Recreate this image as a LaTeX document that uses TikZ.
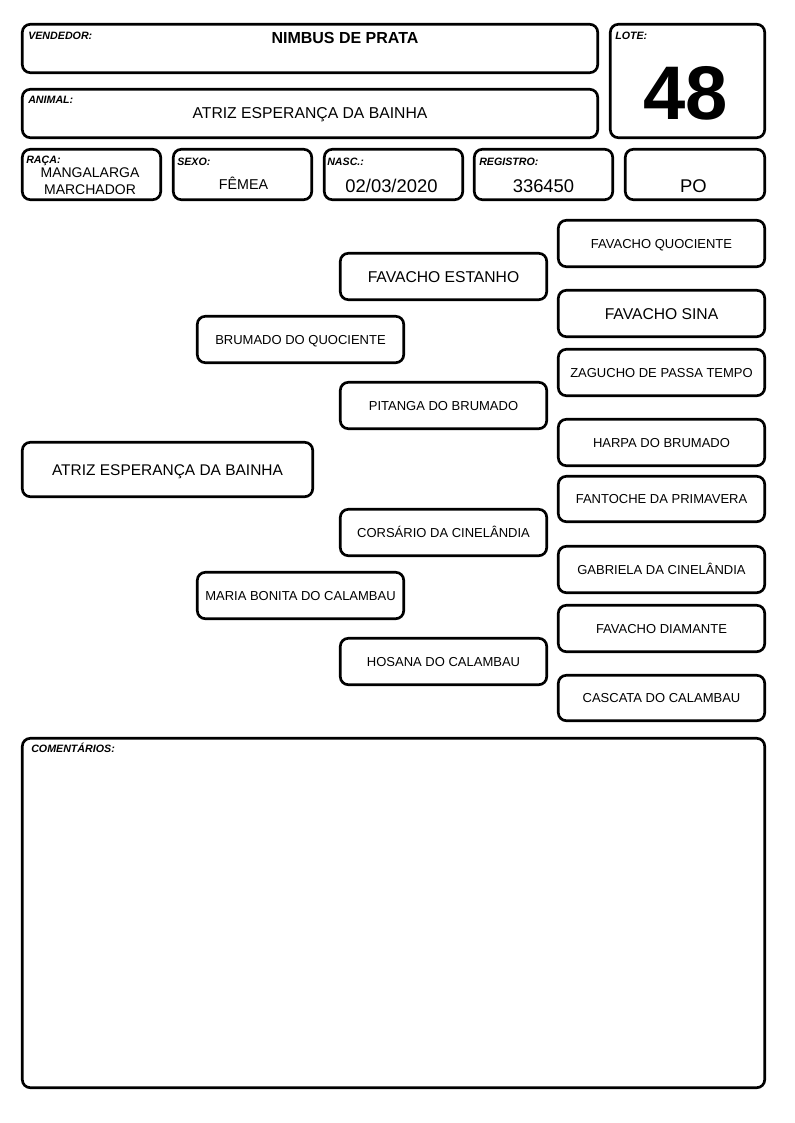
\documentclass[tikz,border=0pt]{standalone}
\usepackage{fontspec}
\setmainfont{Liberation Sans}
\tikzset{
  box/.style={draw, line width=2pt, rounded corners=6pt, inner sep=0pt, align=center, text depth=0pt},
  lbl/.style={font=\fontsize{8}{9}\selectfont\bfseries\itshape, anchor=west, inner sep=0pt, text height=5.73pt, text depth=0pt},
  val/.style={inner sep=0pt, align=center},
  small/.style={font=\fontsize{9.75}{11}\selectfont, text height=6.98pt},
  big/.style={font=\fontsize{11.75}{13}\selectfont, text height=8.41pt},
}
% name, x1, y1, x2, y2, style, text  (pixel coordinates, outer edges)
\newcommand\bx[7]{\node[box, #6, minimum width={(#4-#2-2.6)*0.75pt}, minimum height={(#5-#3-2.6)*0.75pt}] (#1) at ({(#2+#4)/2},{(#3+#5)/2}) {#7};}
\begin{document}
\begin{tikzpicture}[x=0.75pt,y=-0.75pt]
\useasboundingbox (0,0) rectangle (794,1123);
% header boxes
\bx{vend}{21}{23}{599}{74}{}{}
\bx{anim}{21}{88}{599}{139}{}{}
\bx{lote}{609}{23}{766}{139}{}{}
\bx{raca}{21}{148}{162}{201}{}{}
\bx{sexo}{172}{148}{313}{201}{}{}
\bx{nasc}{323}{148}{464}{201}{}{}
\bx{reg}{473}{148}{614}{201}{}{}
\bx{cat}{624}{148}{766}{201}{}{}
% labels
\node[lbl] (lvend) at (28,35.5) {VENDEDOR:};
\node[lbl] (lanim) at (28,99.5) {ANIMAL:};
\node[lbl] (llote) at (615,35.5) {LOTE:};
\node[lbl] (lraca) at (26,159.5) {RAÇA:};
\node[lbl] (lsexo) at (177,162) {SEXO:};
\node[lbl] (lnasc) at (327,162) {NASC.:};
\node[lbl] (lreg) at (479,162) {REGISTRO:};
% values
\node[val, font=\fontsize{12}{14}\selectfont\bfseries, text height=8.6pt, text depth=0pt] (vvend) at (345,37.5) {NIMBUS DE PRATA};
\node[val, font=\fontsize{11.8}{14}\selectfont, text height=8.45pt, text depth=0pt] (vanim) at (310,113) {ATRIZ ESPERANÇA DA BAINHA};
\node[val, font=\fontsize{57}{60}\selectfont\bfseries, text height=40.8pt, text depth=0pt] (vlote) at (686,92.7) {48};
\node[val, font=\fontsize{10.5}{12.3}\selectfont] (vraca) at (90,181) {MANGALARGA\\MARCHADOR};
\node[val, font=\fontsize{10.7}{12}\selectfont, text height=7.66pt, text depth=0pt] (vsexo) at (243.5,184.5) {FÊMEA};
\node[val, font=\fontsize{13.8}{15}\selectfont, text height=9.88pt, text depth=0pt] (vnasc) at (391.5,185.5) {02/03/2020};
\node[val, font=\fontsize{13.8}{15}\selectfont, text height=9.88pt, text depth=0pt] (vreg) at (543.5,185.5) {336450};
\node[val, font=\fontsize{13.8}{15}\selectfont, text height=9.88pt, text depth=0pt] (vcat) at (693.5,186) {PO};
% pedigree
\bx{p1}{21}{441}{314}{498}{font=\fontsize{11.6}{13}\selectfont, text height=8.3pt}{ATRIZ ESPERANÇA DA BAINHA}
\bx{p2a}{196}{315}{405}{364}{small}{BRUMADO DO QUOCIENTE}
\bx{p2b}{196}{571}{405}{620}{small}{MARIA BONITA DO CALAMBAU}
\bx{p3a}{339}{252}{548}{301}{big}{FAVACHO ESTANHO}
\bx{p3b}{339}{381}{548}{430}{small}{PITANGA DO BRUMADO}
\bx{p3c}{339}{508}{548}{557}{small}{CORSÁRIO DA CINELÂNDIA}
\bx{p3d}{339}{637}{548}{686}{small}{HOSANA DO CALAMBAU}
\bx{p4a}{557}{219}{766}{268}{small}{FAVACHO QUOCIENTE}
\bx{p4b}{557}{289}{766}{338}{big}{FAVACHO SINA}
\bx{p4c}{557}{348}{766}{397}{small}{ZAGUCHO DE PASSA TEMPO}
\bx{p4d}{557}{418}{766}{467}{small}{HARPA DO BRUMADO}
\bx{p4e}{557}{475}{766}{523}{small}{FANTOCHE DA PRIMAVERA}
\bx{p4f}{557}{545}{766}{594}{small}{GABRIELA DA CINELÂNDIA}
\bx{p4g}{557}{604}{766}{653}{small}{FAVACHO DIAMANTE}
\bx{p4h}{557}{674}{766}{722}{small}{CASCATA DO CALAMBAU}
% comments
\bx{com}{21}{737}{766}{1089}{}{}
\node[lbl] (lcom) at (31,749) {COMENTÁRIOS:};
\end{tikzpicture}
\end{document}
